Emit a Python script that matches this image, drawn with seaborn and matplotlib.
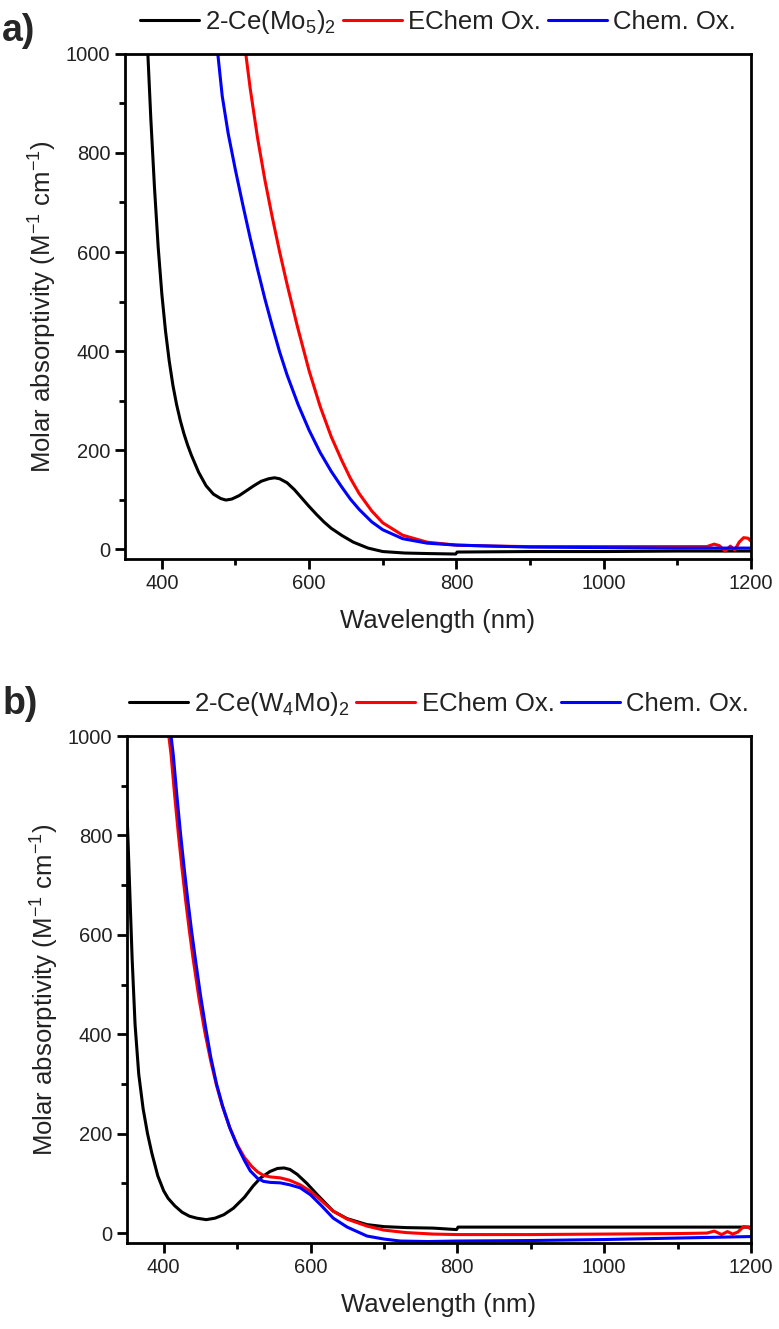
import numpy as np
import pandas as pd
import seaborn as sns
import matplotlib.pyplot as plt
from matplotlib.ticker import MultipleLocator

# Panel a: 2-Ce(Mo5)2 and its oxidised forms
a_black_x = [381, 385, 390, 395, 400, 405, 410, 415, 420, 425, 430, 435, 440, 450, 460,
             470, 480, 487, 495, 505, 515, 525, 535, 545, 553, 560, 570, 580, 590, 600,
             610, 620, 630, 645, 660, 680, 700, 730, 760, 799, 801, 900, 1000, 1100, 1200]
a_black_y = [1000, 870, 730, 610, 515, 440, 380, 331, 292, 260, 233, 210, 190, 155, 128,
             111, 102, 99, 101, 108, 118, 128, 137, 142, 144, 142, 134, 120, 103, 86,
             70, 55, 42, 27, 14, 2, -5, -8, -9, -10, -6, -5, -5, -4, -4]

a_red_x = [514, 520, 530, 540, 550, 560, 570, 584, 600, 615, 630, 644, 656, 668, 685,
           700, 727, 760, 800, 850, 900, 1000, 1100, 1140, 1150, 1157, 1165, 1172,
           1178, 1184, 1190, 1196, 1200]
a_red_y = [1000, 930, 830, 745, 670, 600, 535, 450, 360, 288, 227, 180, 143, 112, 77,
           53, 28, 14, 8, 6, 5, 5, 5, 5, 10, 7, -4, 6, -2, 14, 23, 22, 16]

a_blue_x = [476, 482, 490, 500, 510, 520, 530, 540, 550, 560, 570, 585, 600, 615, 630,
            644, 656, 668, 685, 700, 727, 760, 800, 900, 1000, 1100, 1200]
a_blue_y = [1000, 915, 840, 765, 695, 628, 565, 505, 450, 398, 352, 292, 240, 195, 157,
            126, 101, 80, 55, 39, 21, 12, 8, 4, 3, 2, 2]

# Panel b: 2-Ce(W4Mo)2 and its oxidised forms
b_black_x = [350, 354, 357, 361, 366, 372, 378, 384, 392, 400, 406, 415, 425, 435, 445,
             458, 470, 482, 495, 510, 522, 532, 545, 555, 564, 572, 582, 595, 610, 631,
             650, 677, 700, 730, 767, 799, 801, 900, 1000, 1100, 1200]
b_black_y = [850, 680, 553, 420, 320, 250, 200, 160, 115, 85, 70, 55, 42, 34, 30,
             27, 30, 37, 50, 72, 95, 111, 124, 130, 131, 128, 118, 100, 76, 44,
             29, 17, 13, 11, 10, 7, 12, 12, 12, 12, 12]

b_red_x = [407, 410, 415, 420, 425, 430, 435, 440, 448, 456, 464, 472, 480, 490, 500,
           510, 520, 528, 536, 545, 559, 572, 586, 600, 615, 631, 650, 677, 700, 730,
           767, 800, 900, 1000, 1100, 1140, 1150, 1160, 1168, 1175, 1182, 1190, 1196, 1200]
b_red_y = [1000, 963, 880, 803, 733, 668, 608, 553, 473, 405, 347, 297, 255, 212, 178,
           152, 134, 123, 116, 113, 111, 106, 97, 84, 65, 44, 28, 14, 6, 1,
           -2, -3, -3, -2, -1, 0, 4, -3, 3, -2, 2, 13, 12, 8]

b_blue_x = [410, 413, 418, 423, 428, 433, 438, 443, 450, 457, 464, 472, 480, 490, 500,
            510, 518, 528, 536, 545, 559, 572, 586, 600, 615, 631, 650, 677, 700, 722,
            760, 800, 900, 1000, 1100, 1200]
b_blue_y = [1000, 963, 880, 803, 733, 668, 608, 553, 480, 415, 355, 300, 257, 212, 176,
            146, 125, 110, 104, 102, 101, 97, 91, 77, 55, 30, 12, -6, -12, -16,
            -17, -16, -15, -13, -10, -7]

labels_a = ["2-Ce(Mo$_5$)$_2$", "EChem Ox.", "Chem. Ox."]
labels_b = ["2-Ce(W$_4$Mo)$_2$", "EChem Ox.", "Chem. Ox."]
colors = ["black", "#ff0000", "#0000ff"]

sns.set_style("ticks")
plt.rcParams["font.family"] = ["Liberation Sans", "DejaVu Sans"]
plt.rcParams["mathtext.default"] = "regular"

fig = plt.figure(figsize=(7.79, 13.29), dpi=100)
ax_a = fig.add_axes([0.1605, 0.5794, 0.8035, 0.38])
ax_b = fig.add_axes([0.163, 0.0647, 0.801, 0.3815])

panels = [
    (ax_a, [(a_black_x, a_black_y), (a_red_x, a_red_y), (a_blue_x, a_blue_y)], labels_a),
    (ax_b, [(b_black_x, b_black_y), (b_red_x, b_red_y), (b_blue_x, b_blue_y)], labels_b),
]

for ax, series, labels in panels:
    for (xs, ys), lab, c in zip(series, labels, colors):
        df = pd.DataFrame({"Wavelength": xs, "Abs": ys})
        sns.lineplot(data=df, x="Wavelength", y="Abs", color=c, lw=2.2,
                     label=lab, ax=ax, sort=False)
    ax.set_xlim(350, 1200)
    ax.set_ylim(-20, 1000)
    ax.xaxis.set_major_locator(MultipleLocator(200))
    ax.xaxis.set_minor_locator(MultipleLocator(100))
    ax.yaxis.set_major_locator(MultipleLocator(200))
    ax.yaxis.set_minor_locator(MultipleLocator(100))
    for sp in ax.spines.values():
        sp.set_linewidth(2)
        sp.set_color("black")
    ax.tick_params(which="major", direction="out", length=7, width=2, labelsize=14.5,
                   colors="black", labelcolor="#222222")
    ax.tick_params(which="minor", direction="out", length=4.5, width=2, colors="black")
    ax.set_xlabel("Wavelength (nm)", fontsize=18.5, labelpad=12, color="#222222")
    ax.set_ylabel("Molar absorptivity (M$^{-1}$ cm$^{-1}$)", fontsize=18.5,
                  labelpad=5, color="#222222")
    leg = ax.legend(loc="lower center", bbox_to_anchor=(0.5, 1.01), ncol=3,
                    frameon=False, fontsize=18.5, handlelength=2.3, handletextpad=0.25,
                    columnspacing=0.25, borderaxespad=0.1)
    for t in leg.get_texts():
        t.set_color("#222222")

fig.text(0.003, 0.99, "a)", fontsize=27, fontweight="bold", va="top")
fig.text(0.003, 0.484, "b)", fontsize=27, fontweight="bold", va="top")

fig.savefig("out.png", dpi=100)
